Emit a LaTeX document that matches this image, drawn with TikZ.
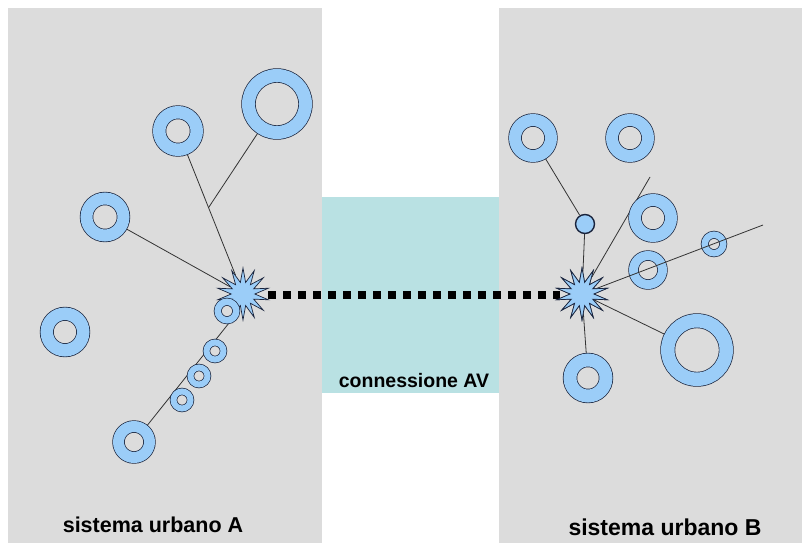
\documentclass[tikz,border=0pt]{standalone}
\usepackage{fontspec}
\setmainfont{Liberation Sans}
\usetikzlibrary{shapes.geometric,calc}
\pgfdeclarelayer{back}
\pgfdeclarelayer{links}
\pgfdeclarelayer{front}
\pgfsetlayers{back,links,main,front}

\definecolor{panelgray}{RGB}{220,220,220}
\definecolor{avteal}{RGB}{185,225,227}
\definecolor{ringblue}{RGB}{155,205,248}
\definecolor{ringline}{RGB}{25,35,60}

\tikzset{
  % ring: #1 = diameter of the mid line, #2 = width of the blue band
  ring/.style 2 args={circle, inner sep=0pt, minimum size=#1pt,
    draw=ringline, line width=0.7pt, double=ringblue,
    double distance=#2pt, fill=panelgray},
  station/.style={circle, inner sep=0pt, minimum size=19pt,
    fill=ringblue, draw=ringline, line width=1.4pt},
  hub/.style={star, star points=14, star point ratio=2.2,
    minimum size=52pt, inner sep=0pt, fill=ringblue,
    draw=ringline, line width=0.7pt},
  link/.style={draw=black!80, line width=0.8pt},
  railway/.style={draw=black, line width=7.5pt, dash pattern=on 8pt off 7pt},
  label/.style={font=\bfseries\fontsize{#1}{#1}\selectfont, inner sep=0pt}
}

\begin{document}
\begin{tikzpicture}[x=1pt, y=-1pt]
\useasboundingbox (0,0) rectangle (802,543);

% panels
\begin{pgfonlayer}{back}
  \fill[white] (0,0) rectangle (802,543);
  \fill[panelgray] (8,8) rectangle (322,543);
  \fill[panelgray] (499,8) rectangle (802,543);
  \fill[avteal] (322,197) rectangle (499,393);
\end{pgfonlayer}

% hubs
\node[hub] (sA) at (243,294) {};
\node[hub] (sB) at (582,294) {};

% urban system A
\node[ring={57}{13}]     (rA1) at (277,104) {};
\node[ring={37.5}{12.5}] (rA2) at (178,131) {};
\node[ring={37}{12}]     (rA3) at (105,217) {};
\node[ring={36.5}{12.5}] (rA4) at (65,332) {};
\node[ring={31}{11}]     (rA5) at (134,442) {};
\node[ring={18.5}{6.5}]  (rA6) at (227,311) {};
\node[ring={17}{6}]      (rA7) at (215,351) {};
\node[ring={17}{6}]      (rA8) at (199,376) {};
\node[ring={17}{6}]      (rA9) at (182,400) {};

% urban system B
\node[ring={36}{12}]     (rB1) at (533,138) {};
\node[ring={36}{12}]     (rB2) at (630,138) {};
\node[ring={36}{12}]     (rB3) at (653,218) {};
\node[ring={29}{9}]      (rB4) at (648,270) {};
\node[ring={18.5}{6.5}]  (rB5) at (714,244) {};
\node[ring={58.5}{13.5}] (rB6) at (697,350) {};
\node[ring={36}{13}]     (rB7) at (588,378) {};
\node[station]           (st)  at (585,224) {};

\coordinate (endB1) at (650,177);
\coordinate (endB2) at (763,225);

% local connections
\begin{pgfonlayer}{links}
  \coordinate (jA) at ($(rA2)!0.47!(sA)$);
  \draw[link] (rA2) -- (sA);
  \draw[link] (jA) -- (rA1);
  \draw[link] (rA3) -- (sA);
  \draw[link] (rA5) -- ($(rA6)+(10,2)$);
  \draw[link] (rB1) -- (st);
  \draw[link] (st) -- (sB);
  \draw[link] (sB) -- (endB1);
  \draw[link] (sB) -- (rB6);
  \draw[link] (sB) -- (rB7);
\end{pgfonlayer}

% high-speed link between the two hubs
\draw[railway] ($(sA.center)+(25,1)$) -- ($(sB.center)+(-22,1)$);

\begin{pgfonlayer}{front}
  \draw[link] (sB.center) -- (endB2);
  \node[hub] at (sB) {};
\end{pgfonlayer}

% labels
\node[label=21.5] (labA) at (153,525) {sistema urbano A};
\node[label=23]   (labB) at (665,527) {sistema urbano B};
\node[label=19.5] (labAV) at (414,381) {connessione AV};
\end{tikzpicture}
\end{document}
